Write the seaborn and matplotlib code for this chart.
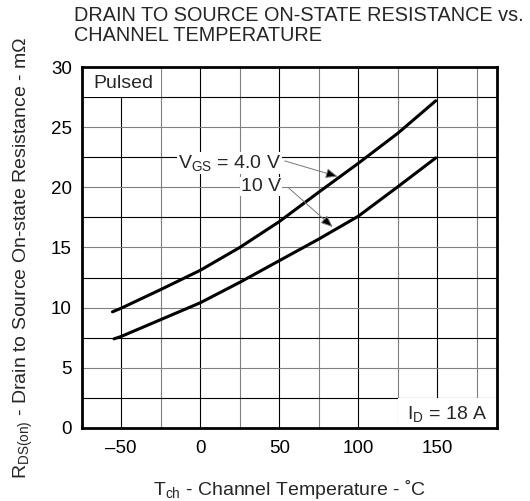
import numpy as np
import pandas as pd
import matplotlib
matplotlib.use("Agg")
import matplotlib.pyplot as plt
import seaborn as sns
from matplotlib.patches import Rectangle

# ---- data ----
temp_4v = [-55.5, -50, -25, 0, 25, 50, 75, 100, 125, 149]
rds_4v = [9.65, 9.95, 11.5, 13.1, 15.0, 17.15, 19.6, 22.0, 24.5, 27.2]
temp_10v = [-54.5, -50, -25, 0, 25, 50, 75, 100, 125, 149]
rds_10v = [7.4, 7.6, 9.0, 10.4, 12.1, 13.9, 15.7, 17.6, 20.05, 22.45]
x_ticks = [-50, 0, 50, 100, 150]
x_tick_labels = ["\u201350", "0", "50", "100", "150"]
y_ticks = [0, 5, 10, 15, 20, 25, 30]
y_tick_labels = ["0", "5", "10", "15", "20", "25", "30"]

sns.set_theme(style="white")
plt.rcParams['font.family'] = ['Liberation Sans', 'DejaVu Sans']
plt.rcParams['mathtext.fontset'] = 'custom'
plt.rcParams['mathtext.rm'] = 'Liberation Sans'

fig = plt.figure(figsize=(5.30, 5.01), dpi=100)
ax = fig.add_axes([0.154, 0.146, 0.783, 0.720])

df = pd.concat([
    pd.DataFrame({"T": temp_4v, "R": rds_4v, "VGS": "4.0 V"}),
    pd.DataFrame({"T": temp_10v, "R": rds_10v, "VGS": "10 V"}),
])
sns.lineplot(data=df, x="T", y="R", units="VGS", estimator=None,
             color="black", lw=2.2, ax=ax, zorder=5, legend=False)

ax.set_xlim(-75, 187.5)
ax.set_ylim(0, 30)

# grid: vertical lines every 25, horizontal every 2.5
for xv in np.arange(-50, 176, 25):
    c = "black" if xv % 50 == 0 else "#808080"
    ax.axvline(xv, color=c, lw=0.8, zorder=1)
for yv in np.arange(2.5, 30, 2.5):
    c = "#808080" if yv % 5 == 0 else "black"
    ax.axhline(yv, color=c, lw=0.8, zorder=1)

ax.set_xticks(x_ticks)
ax.set_xticklabels(x_tick_labels)
ax.set_yticks(y_ticks)
ax.set_yticklabels(y_tick_labels)
ax.tick_params(length=0, labelsize=13.5, colors="black")
ax.tick_params(axis="x", pad=9)
ax.tick_params(axis="y", pad=7)
for s in ax.spines.values():
    s.set_linewidth(2)
    s.set_color("black")
    s.set_zorder(10)

ax.set_xlabel(r"$\mathregular{T_{ch}}$ - Channel Temperature - ˚C", fontsize=14, labelpad=15)
ax.set_ylabel(r"$\mathregular{R_{DS(on)}}$ - Drain to Source On-state Resistance - m$\mathregular{\Omega}$",
              fontsize=14)
ax.yaxis.set_label_coords(-0.112, 0.472)

# boxes
ax.add_patch(Rectangle((-75, 27.5), 50, 2.5, facecolor="white", edgecolor="none", zorder=2))
ax.text(-67.5, 28.6, "Pulsed", fontsize=14, va="center", ha="left", zorder=3)
ax.add_patch(Rectangle((125, 0), 62.5, 2.5, facecolor="white", edgecolor="none", zorder=2))
ax.text(181.5, 1.15, r"$\mathregular{I_D}$ = 18 A", fontsize=14, va="center", ha="right", zorder=3)

# annotations
bbox = dict(facecolor="white", edgecolor="none", pad=0.5)
ax.text(51, 21.6, r"$\mathregular{V_{GS}}$ = 4.0 V", fontsize=14, ha="right", va="baseline",
        bbox=bbox, zorder=4)
ax.text(51, 19.72, "10 V", fontsize=14, ha="right", va="baseline", bbox=bbox, zorder=4)
ap = dict(arrowstyle="-|>,head_length=0.6,head_width=0.25", fc="black", ec="#777777", lw=0.7,
          shrinkA=0, shrinkB=0)
ax.annotate("", xy=(87, 20.9), xytext=(53.5, 22.2), arrowprops=ap, zorder=6)
ax.annotate("", xy=(83.8, 16.7), xytext=(56, 19.95), arrowprops=ap, zorder=6)

fig.text(0.14, 0.988, "DRAIN TO SOURCE ON-STATE RESISTANCE vs.\nCHANNEL TEMPERATURE",
         fontsize=14.3, ha="left", va="top", linespacing=1.08)

fig.savefig("out.png", dpi=100)
